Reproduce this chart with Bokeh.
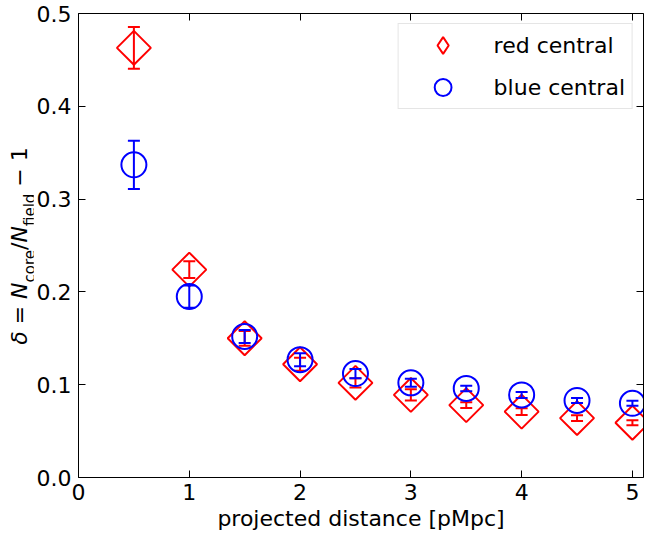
import numpy as np
from bokeh.plotting import figure
from bokeh.layouts import row
from bokeh.models import (Range1d, LinearAxis, Legend, LegendItem, Div,
                          FixedTicker, NumeralTickFormatter, ColumnDataSource)
from bokeh.embed import file_html
from bokeh.resources import INLINE

# ---- data ----
distance = [0.5, 1.0, 1.5, 2.0, 2.5, 3.0, 3.5, 4.0, 4.5, 5.0]
red_delta = [0.463, 0.224, 0.150, 0.122, 0.102, 0.089, 0.078, 0.071, 0.064, 0.059]
red_err = [0.0225, 0.009, 0.008, 0.007, 0.005, 0.006, 0.003, 0.0036, 0.003, 0.0027]
blue_delta = [0.337, 0.195, 0.152, 0.127, 0.112, 0.102, 0.096, 0.089, 0.083, 0.080]
blue_err = [0.026, 0.012, 0.007, 0.007, 0.005, 0.0043, 0.003, 0.0032, 0.0027, 0.0027]
x_ticks = [0, 1, 2, 3, 4, 5]
y_ticks = [0.0, 0.1, 0.2, 0.3, 0.4, 0.5]
series_labels = ["red central", "blue central"]
x_label = "projected distance [pMpc]"

FONT = "DejaVu Sans"
FS = "22px"
LABEL_W = 33

p = figure(width=645 - LABEL_W, height=533, x_range=Range1d(0, 5.1), y_range=Range1d(0, 0.5),
           output_backend="svg", toolbar_location=None,
           min_border_left=77 - LABEL_W, min_border_top=13, min_border_right=2,
           min_border_bottom=56)
p.grid.visible = False
p.outline_line_color = None
p.background_fill_color = "white"
p.border_fill_color = "white"


def style_axis(ax, labels=True):
    ax.major_tick_in = 7
    ax.major_tick_out = 0
    ax.minor_tick_line_color = None
    ax.major_tick_line_color = "black"
    ax.major_tick_line_width = 1
    ax.axis_line_color = "black"
    ax.axis_line_width = 1
    ax.major_label_text_font = FONT
    if labels:
        ax.major_label_text_color = "black"
        ax.major_label_text_font_size = FS
        ax.major_label_standoff = 6
    else:
        ax.major_label_text_color = None
        ax.major_label_text_alpha = 0
        ax.major_label_text_font_size = "0px"
        ax.major_label_standoff = 0


xa = p.xaxis[0]
xa.ticker = FixedTicker(ticks=x_ticks)
style_axis(xa)
xa.axis_label = x_label
xa.axis_label_text_font = FONT
xa.axis_label_text_font_size = FS
xa.axis_label_text_font_style = "normal"
xa.axis_label_text_color = "black"
xa.axis_label_standoff = 3

ya = p.yaxis[0]
ya.ticker = FixedTicker(ticks=y_ticks)
ya.formatter = NumeralTickFormatter(format="0.0")
style_axis(ya)
ya.major_label_standoff = 7

top = LinearAxis(ticker=FixedTicker(ticks=x_ticks))
style_axis(top, labels=False)
p.add_layout(top, "above")
right = LinearAxis(ticker=FixedTicker(ticks=y_ticks))
style_axis(right, labels=False)
p.add_layout(right, "right")

# ---- data marks ----
def add_series(y, err, color, marker, size, angle):
    d = np.array(distance)
    yv = np.array(y)
    ev = np.array(err)
    src = ColumnDataSource(dict(x=d, y=yv, lo=yv - ev, hi=yv + ev))
    p.segment(x0="x", y0="lo", x1="x", y1="hi", source=src, line_color=color, line_width=2)
    p.scatter(x="x", y="lo", source=src, marker="dash", size=12, line_color=color, line_width=2)
    p.scatter(x="x", y="hi", source=src, marker="dash", size=12, line_color=color, line_width=2)
    r = p.scatter(x="x", y="y", source=src, marker=marker, size=size, angle=angle,
                  line_color=color, fill_color=None, line_width=2)
    return r

add_series(red_delta, red_err, "red", "square", 24, np.pi / 4)
add_series(blue_delta, blue_err, "blue", "circle", 25, 0)

# legend-only glyphs
nan_src = ColumnDataSource(dict(x=[np.nan], y=[np.nan]))
leg_red_m = p.scatter(x="x", y="y", source=nan_src, marker="diamond", line_color="red",
                      fill_color=None, line_width=2)
leg_blue_m = p.scatter(x="x", y="y", source=nan_src, marker="circle", line_color="blue",
                       fill_color=None, line_width=2)

legend = Legend(items=[LegendItem(label=series_labels[0], renderers=[leg_red_m]),
                       LegendItem(label=series_labels[1], renderers=[leg_blue_m])],
                location="top_right", margin=10,
                padding=dict(left=6, right=7, top=0, bottom=0), spacing=0,
                glyph_width=76, glyph_height=42, label_standoff=13, label_width=131,
                label_text_font=FONT, label_text_font_size=FS, label_text_color="black",
                border_line_color="#cccccc", border_line_width=1,
                background_fill_alpha=0.8)
p.add_layout(legend)

# ---- y axis label as real (HTML) text with subscripts, rotated ----
sub = "font-size:15px;vertical-align:-8px;font-style:normal;"
ylabel_html = (
    "<div style=\"position:absolute;left:23px;top:246px;"
    "transform:translate(-50%,-50%) rotate(-90deg);white-space:nowrap;"
    "font-family:'DejaVu Sans';font-size:22px;line-height:1;color:black;\">"
    "<i>δ</i> = <i>N</i><span style=\"" + sub + "\">core</span>/"
    "<i>N</i><span style=\"" + sub + "\">field</span> − 1</div>"
)
ylabel = Div(text=ylabel_html, width=LABEL_W, height=533, margin=0,
             styles={"position": "relative", "overflow": "visible"})

layout = row(ylabel, p, spacing=0)

open("out.html", "w").write(file_html(layout, INLINE))
